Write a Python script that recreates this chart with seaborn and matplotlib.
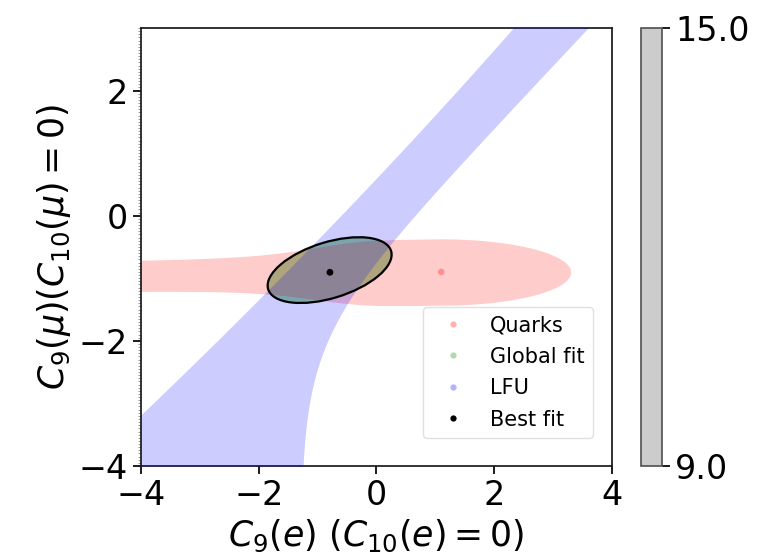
import numpy as np
import matplotlib
matplotlib.use("Agg")
import matplotlib.pyplot as plt
import seaborn as sns
from matplotlib.patches import Ellipse
from matplotlib.lines import Line2D
from matplotlib.colors import ListedColormap, Normalize
from matplotlib.cm import ScalarMappable
from matplotlib.ticker import MultipleLocator

# --------------------------
# Values (coefficient units)
# --------------------------
best_fit = [-0.79, -0.905]        # global best fit point (C9(e), C9(mu))
quarks_fit = [1.1, -0.9]          # best point of the quark-only fit

# global fit contour: centre, semi axes and tilt in degrees
global_centre = [-0.795, -0.87]
global_axes = [1.088, 0.449]
global_angle = 16.0

# quarks region: peak half height, reach to the right, far-left half height,
# taper scale, taper sharpness, drift of the centre to the left
quarks_shape = [0.53, 2.2, 0.24, 2.35, 4.4, 0.012]

# LFU band: left edge x = a0 + a1*y + a2*y^2 ; right edge vertical at x_v, bending at y_k into x = y + (x_v - y_k)
lfu_left = [-0.607, 1.02, -0.0144]
lfu_right = [-1.29, -1.883, 0.75]

colorbar_range = [9.0, 15.0]
x_ticks = [-4, -2, 0, 2, 4]
y_ticks = [-4, -2, 0, 2]
legend_labels = ["Quarks", "Global fit", "LFU", "Best fit"]
legend_colors = ["red", "green", "blue", "black"]
legend_alpha = [0.3, 0.3, 0.3, 1.0]

# --------------------------
# Figure
# --------------------------
sns.set_theme(style="ticks")
plt.rcParams["font.family"] = ["DejaVu Sans"]
plt.rcParams.update({"text.color": "black", "axes.labelcolor": "black",
                     "xtick.color": "black", "ytick.color": "black",
                     "axes.edgecolor": "0.1"})

fig = plt.figure(figsize=(7.62, 5.6), dpi=100)
ax = fig.add_axes([0.185, 0.168, 0.618, 0.782])
cax = fig.add_axes([0.841, 0.168, 0.028, 0.782])

# global fit region (drawn first, the other regions sit on top of it)
ax.add_patch(Ellipse(global_centre, 2 * global_axes[0], 2 * global_axes[1], angle=global_angle,
                     facecolor="green", alpha=0.39, lw=0, zorder=1))

# quarks region
xq, yq = quarks_fit
h0, reach, h_far, taper, sharp, drift = quarks_shape
xs = np.linspace(-4.5, xq + reach, 800)
d = xs - xq
half = np.where(d < 0, h_far + (h0 - h_far) / (1 + (np.abs(d) / taper) ** sharp),
                h0 * np.sqrt(np.clip(1 - (d / reach) ** 2, 0, None)))
centre = yq + np.where(d < 0, drift * d, 0)
ax.fill_between(xs, centre - half, centre + half, color="red", alpha=0.2, lw=0, zorder=2)

# LFU band
ys = np.linspace(-4.5, 3.5, 800)
x_left = lfu_left[0] + lfu_left[1] * ys + lfu_left[2] * ys ** 2
xv, yk, bend = lfu_right
x_right = xv + bend * np.logaddexp(0, (ys - yk) / bend)
ax.fill_betweenx(ys, x_left, x_right, color="blue", alpha=0.2, lw=0, zorder=3)

# global fit outline
ax.add_patch(Ellipse(global_centre, 2 * global_axes[0], 2 * global_axes[1], angle=global_angle,
                     facecolor="none", edgecolor="black", lw=1.6, zorder=4))

sns.scatterplot(x=[quarks_fit[0]], y=[quarks_fit[1]], color="red", alpha=0.3, s=22,
                edgecolor="none", ax=ax, zorder=5)
sns.scatterplot(x=[best_fit[0]], y=[best_fit[1]], color="black", s=24,
                edgecolor="none", ax=ax, zorder=6)

handles = [Line2D([], [], ls="none", marker="o", ms=4.5, color=c, alpha=a, mec="none")
           for c, a in zip(legend_colors, legend_alpha)]
leg = ax.legend(handles, legend_labels, loc="lower right", bbox_to_anchor=(0.96, 0.064),
                borderaxespad=0, fontsize=15, labelspacing=0.55, frameon=True, fancybox=True)
leg.get_frame().set_edgecolor("0.85")

ax.set_xlim(-4, 4)
ax.set_ylim(-4, 3)
ax.set_xticks(x_ticks)
ax.set_yticks(y_ticks)
ax.yaxis.set_minor_locator(MultipleLocator(0.05))
ax.tick_params(which="minor", axis="y", length=2.5, width=0.5, color="0.45")
ax.tick_params(which="major", labelsize=24)
ax.set_xlabel(r"$C_9(e)\ (C_{10}(e) = 0)$", fontsize=25)
ax.set_ylabel(r"$C_9(\mu)(C_{10}(\mu) = 0)$", fontsize=25)

# colour bar
sm = ScalarMappable(norm=Normalize(*colorbar_range), cmap=ListedColormap(["#cccccc"]))
cb = fig.colorbar(sm, cax=cax, ticks=colorbar_range, format="%.1f")
cb.outline.set_edgecolor("#555555")
cax.tick_params(labelsize=24)

plt.savefig("out.png", dpi=100)
